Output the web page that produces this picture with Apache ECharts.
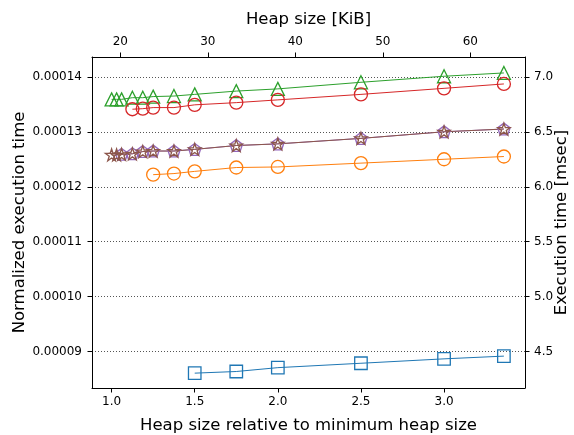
<!DOCTYPE html>
<html><head><meta charset="utf-8">
<script src="https://cdn.jsdelivr.net/npm/echarts@6/dist/echarts.min.js"></script>
<style>html,body{margin:0;padding:0;background:#fff}#c{width:574px;height:435px}</style>
</head><body><div id="c"></div>
<script>
// ---- data (x = heap size relative to minimum heap size, y = normalized execution time) ----
const blueX   = [1.5, 1.75, 2.0, 2.5, 3.0, 3.36];
const blueY   = [0.0000861, 0.0000864, 0.0000871, 0.0000879, 0.0000887, 0.0000892];
const orangeX = [1.25, 1.375, 1.5, 1.75, 2.0, 2.5, 3.0, 3.36];
const orangeY = [0.0001222, 0.0001224, 0.0001228, 0.0001235, 0.0001236, 0.0001243, 0.0001250, 0.0001255];
const greenX  = [1.0, 1.03, 1.06, 1.125, 1.1875, 1.25, 1.375, 1.5, 1.75, 2.0, 2.5, 3.0, 3.36];
const greenY  = [0.0001359, 0.0001359, 0.0001359, 0.0001362, 0.0001362, 0.0001364, 0.0001365, 0.0001368, 0.0001374, 0.0001378, 0.0001390, 0.0001401, 0.0001407];
const redX    = [1.125, 1.1875, 1.25, 1.375, 1.5, 1.75, 2.0, 2.5, 3.0, 3.36];
const redY    = [0.0001341, 0.0001342, 0.0001344, 0.0001344, 0.0001349, 0.0001353, 0.0001358, 0.0001368, 0.0001379, 0.0001387];
const purpleX = [1.06, 1.125, 1.1875, 1.25, 1.375, 1.5, 1.75, 2.0, 2.5, 3.0, 3.36];
const purpleY = [0.0001259, 0.0001260, 0.0001264, 0.0001265, 0.0001265, 0.0001268, 0.0001275, 0.0001278, 0.0001288, 0.0001300, 0.0001305];
const brownX  = [1.0, 1.03, 1.06, 1.125, 1.1875, 1.25, 1.375, 1.5, 1.75, 2.0, 2.5, 3.0, 3.36];
const brownY  = [0.0001258, 0.0001258, 0.0001259, 0.0001260, 0.0001264, 0.0001265, 0.0001265, 0.0001268, 0.0001275, 0.0001278, 0.0001288, 0.0001300, 0.0001305];

const xTicks     = [1.0, 1.5, 2.0, 2.5, 3.0];
const topTicks   = [20, 30, 40, 50, 60];
const yTicks     = [0.00009, 0.00010, 0.00011, 0.00012, 0.00013, 0.00014];
const rightTicks = [4.5, 5.0, 5.5, 6.0, 6.5, 7.0];

const xMin = 0.882, xMax = 3.487;
const yMin = 0.0000834, yMax = 0.0001436;
const minHeapKiB = 19;      // top axis scale factor
const msecFactor = 50000;   // right axis scale factor

// ---- chart ----
const FONT = 'DejaVu Sans';
const pentagon = 'path://M0,-1 L0.951,-0.309 L0.588,0.809 L-0.588,0.809 L-0.951,-0.309 Z';
const star = 'path://M0,-1 L0.2245,-0.309 L0.951,-0.309 L0.3633,0.118 L0.588,0.809 L0,0.382 L-0.588,0.809 L-0.3633,0.118 L-0.951,-0.309 L-0.2245,-0.309 Z';

function zip(a, b) { return a.map((v, i) => [v, b[i]]); }
function mk(name, xs, ys, color, symbol, size) {
  return {
    name, type: 'line', xAxisIndex: 0, yAxisIndex: 0,
    data: zip(xs, ys), symbol, symbolSize: size,
    lineStyle: { color, width: 1 },
    itemStyle: { color: 'rgba(0,0,0,0)', borderColor: color, borderWidth: 1.3 },
    emphasis: { disabled: true }
  };
}
const axisCommon = {
  axisLine: { show: true, onZero: false, lineStyle: { color: '#000', width: 1 } },
  axisTick: { show: true, inside: false, length: 4.5, lineStyle: { color: '#000', width: 1 } },
  splitLine: { show: false },
  nameMoveOverlap: false,
  nameTextStyle: { fontFamily: FONT, fontSize: 16.5, color: '#000' }
};
const chart = echarts.init(document.getElementById('c'), null, { renderer: 'canvas' });
chart.setOption({
  animation: false,
  backgroundColor: '#fff',
  grid: { left: 92, right: 49, top: 57, bottom: 47, containLabel: false, outerBoundsMode: 'none' },
  xAxis: [
    Object.assign({}, axisCommon, {
      type: 'value', position: 'bottom', min: xMin, max: xMax,
      axisTick: Object.assign({}, axisCommon.axisTick, { customValues: xTicks }),
      axisLabel: { customValues: xTicks, formatter: v => v.toFixed(1), fontFamily: FONT, fontSize: 12, color: '#000', margin: 8 },
      name: 'Heap size relative to minimum heap size', nameLocation: 'middle', nameGap: 29
    }),
    Object.assign({}, axisCommon, {
      type: 'value', position: 'top', min: xMin * minHeapKiB, max: xMax * minHeapKiB,
      axisTick: Object.assign({}, axisCommon.axisTick, { customValues: topTicks }),
      axisLabel: { customValues: topTicks, formatter: v => String(v), fontFamily: FONT, fontSize: 12, color: '#000', margin: 9 },
      name: 'Heap size [KiB]', nameLocation: 'middle', nameGap: 29
    })
  ],
  yAxis: [
    Object.assign({}, axisCommon, {
      type: 'value', position: 'left', min: yMin, max: yMax,
      axisTick: Object.assign({}, axisCommon.axisTick, { customValues: yTicks }),
      axisLabel: { customValues: yTicks, formatter: v => v.toFixed(5), fontFamily: FONT, fontSize: 12, color: '#000', margin: 10 },
      splitLine: { show: true, lineStyle: { color: '#555', width: 1, type: [1, 2] } },
      name: 'Normalized execution time', nameLocation: 'middle', nameGap: 64
    }),
    Object.assign({}, axisCommon, {
      type: 'value', position: 'right', min: yMin * msecFactor, max: yMax * msecFactor,
      axisTick: Object.assign({}, axisCommon.axisTick, { customValues: rightTicks }),
      axisLabel: { customValues: rightTicks, formatter: v => v.toFixed(1), fontFamily: FONT, fontSize: 12, color: '#000', margin: 9 },
      name: 'Execution time [msec]', nameLocation: 'middle', nameGap: 28
    })
  ],
  series: [
    mk('blue', blueX, blueY, '#1f77b4', 'rect', 12.5),
    mk('orange', orangeX, orangeY, '#ff7f0e', 'circle', 13),
    mk('green', greenX, greenY, '#2ca02c', 'triangle', 13),
    mk('red', redX, redY, '#d62728', 'circle', 13),
    mk('purple', purpleX, purpleY, '#9467bd', pentagon, [12.4, 11.8]),
    mk('brown', brownX, brownY, '#8c564b', star, [12.4, 11.8])
  ]
});
</script>
</body></html>
